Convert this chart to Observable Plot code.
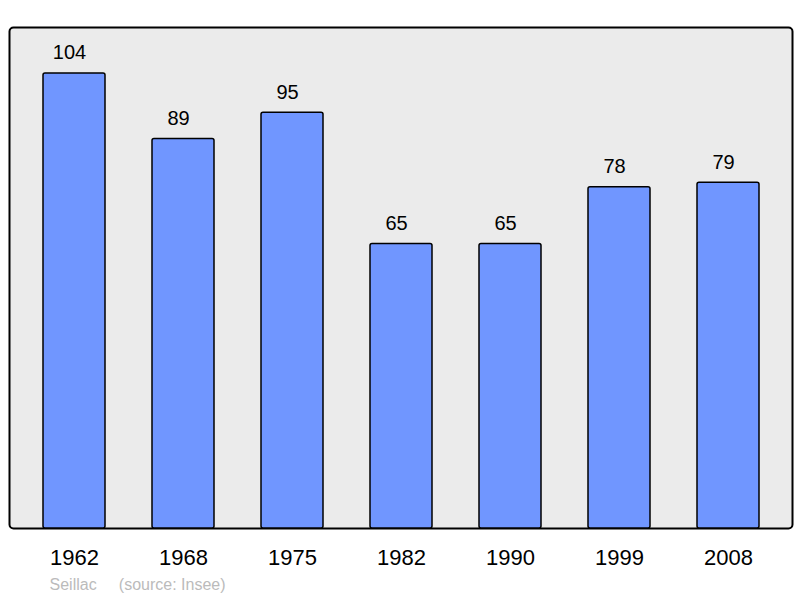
<!DOCTYPE html>
<html>
<head>
<meta charset="utf-8">
<script src="https://cdn.jsdelivr.net/npm/d3@7"></script>
<script src="https://cdn.jsdelivr.net/npm/@observablehq/plot@0.6"></script>
<style>
  html, body { margin: 0; padding: 0; background: #fff; }
  svg { display: block; }
</style>
</head>
<body>
<div id="chart"></div>
<script>
const years = ["1962", "1968", "1975", "1982", "1990", "1999", "2008"];
const population = [104, 89, 95, 65, 65, 78, 79];
const commune = "Seillac";
const source = "(source: Insee)";

const data = years.map((y, i) => ({year: y, value: population[i]}));

const chart = Plot.plot({
  width: 800,
  height: 598,
  marginTop: 27,
  marginBottom: 70,
  marginLeft: 17,
  marginRight: 15,
  style: {fontFamily: "'Liberation Sans', Arial, sans-serif", background: "#fff", color: "#000"},
  x: {domain: years, paddingInner: 0.43, paddingOuter: 0.215, label: null},
  y: {domain: [0, 114.5], axis: null},
  marks: [
    Plot.frame({fill: "#ebebeb", stroke: "#000", strokeWidth: 2, rx: 4, insetLeft: -8, insetRight: -7}),
    Plot.barY(data, {x: "year", y: "value", fill: "#7096ff", stroke: "#000", strokeWidth: 1.5, rx: 2}),
    Plot.text(data, {x: "year", y: "value", text: d => String(d.value), dx: -5, dy: -14, lineAnchor: "bottom", fontSize: 20, fill: "#000"}),
    Plot.axisX({tickSize: 0, tickPadding: 21, fontSize: 22, color: "#000"}),
    Plot.text([commune + "\u00a0\u00a0\u00a0\u00a0\u00a0" + source], {frameAnchor: "bottom-left", dx: 32, dy: 61, lineAnchor: "bottom", textAnchor: "start", fontSize: 16, fill: "#bbbbbb"})
  ]
});
document.getElementById("chart").appendChild(chart);
</script>
</body>
</html>
